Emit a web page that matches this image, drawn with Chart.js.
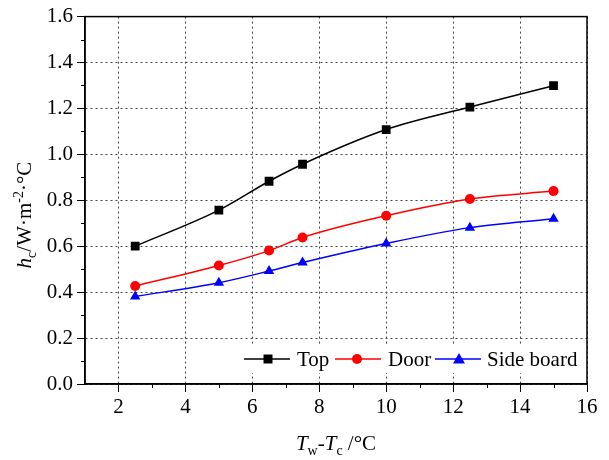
<!DOCTYPE html>
<html>
<head>
<meta charset="utf-8">
<script src="https://cdn.jsdelivr.net/npm/chart.js@4"></script>
<style>
  html, body { margin: 0; padding: 0; background: #fff; }
  #wrap { width: 609px; height: 460px; }
</style>
</head>
<body>
<div id="wrap"><canvas id="chart" width="609" height="460"></canvas></div>
<script>
// values
const xVals = [2.5, 5, 6.5, 7.5, 10, 12.5, 15];
const topVals = [0.600, 0.757, 0.883, 0.957, 1.108, 1.206, 1.299];
const doorVals = [0.427, 0.516, 0.581, 0.638, 0.733, 0.806, 0.840];
const sideVals = [0.381, 0.441, 0.492, 0.529, 0.612, 0.681, 0.720];
const xTicks = [2, 4, 6, 8, 10, 12, 14, 16];
const seriesNames = ["Top", "Door", "Side board"];

const FONT = "'Liberation Serif', 'Times New Roman', serif";

function pts(ys) {
    return xVals.map((x, i) => ({ x: x, y: ys[i] }));
}

function marker(ctx, style, x, y, color) {
    ctx.save();
    ctx.fillStyle = color;
    ctx.beginPath();
    if (style == "rect") {
        ctx.rect(x - 4.5, y - 4.5, 9, 9);
    } else if (style == "circle") {
        ctx.arc(x, y, 5, 0, Math.PI * 2);
    } else {
        ctx.moveTo(x, y - 6);
        ctx.lineTo(x + 6, y + 4.5);
        ctx.lineTo(x - 6, y + 4.5);
        ctx.closePath();
    }
    ctx.fill();
    ctx.restore();
}

// frame, minor ticks, axis titles and the legend
const extras = {
    id: "extras",
    afterDraw(chart) {
        const ctx = chart.ctx;
        const a = chart.chartArea;
        const xs = chart.scales.x;
        const ys = chart.scales.y;
        ctx.save();
        ctx.strokeStyle = "#000";
        ctx.lineWidth = 1.5;
        ctx.strokeRect(a.left, a.top, a.right - a.left, a.bottom - a.top);

        // minor ticks
        ctx.lineWidth = 1;
        ctx.beginPath();
        for (let v = 0.1; v < 1.6; v += 0.2) {
            const py = Math.round(ys.getPixelForValue(v)) + 0.5;
            ctx.moveTo(a.left - 4, py);
            ctx.lineTo(a.left, py);
        }
        for (let v = 3; v < 16; v += 2) {
            const px = Math.round(xs.getPixelForValue(v)) + 0.5;
            ctx.moveTo(px, a.bottom);
            ctx.lineTo(px, a.bottom + 4);
        }
        ctx.stroke();

        ctx.fillStyle = "#000";
        ctx.textBaseline = "alphabetic";

        // x title: Tw-Tc /°C
        const xParts = [
            ["T", "italic 21px " + FONT, 0],
            ["w", "14px " + FONT, 5],
            ["-", "21px " + FONT, 0],
            ["T", "italic 21px " + FONT, 0],
            ["c", "14px " + FONT, 5],
            [" /°C", "21px " + FONT, 0],
        ];
        drawParts(ctx, xParts, (a.left + a.right) / 2, 450);

        // y title: hc/W·m-2·°C, rotated
        ctx.save();
        ctx.translate(31, 215);
        ctx.rotate(-Math.PI / 2);
        const yParts = [
            ["h", "italic 21px " + FONT, 0],
            ["c", "14px " + FONT, 5],
            ["/W·m", "21px " + FONT, 0],
            ["-2", "14px " + FONT, -8],
            ["·°C", "21px " + FONT, 0],
        ];
        drawParts(ctx, yParts, 0, 0);
        ctx.restore();

        // legend
        ctx.fillStyle = "#fff";
        ctx.fillRect(240, 346, 343, 27);
        const ly = 359;
        const items = [
            [244, 290, 268, 297, "rect", "#000"],
            [335, 381, 357, 388, "circle", "#ff0000"],
            [435, 481, 459, 487, "triangle", "#0000ff"],
        ];
        ctx.font = "21px " + FONT;
        ctx.textBaseline = "middle";
        items.forEach((it, i) => {
            ctx.strokeStyle = it[5];
            ctx.lineWidth = 1.5;
            ctx.beginPath();
            ctx.moveTo(it[0], ly);
            ctx.lineTo(it[1], ly);
            ctx.stroke();
            marker(ctx, it[4], it[2], ly, it[5]);
            ctx.fillStyle = "#000";
            ctx.textAlign = "left";
            ctx.fillText(seriesNames[i], it[3], ly + 1);
        });
        ctx.restore();
    },
};

function drawParts(ctx, parts, cx, baseY) {
    let total = 0;
    parts.forEach((p) => {
        ctx.font = p[1];
        total += ctx.measureText(p[0]).width;
    });
    let x = cx - total / 2;
    ctx.textAlign = "left";
    parts.forEach((p) => {
        ctx.font = p[1];
        ctx.fillText(p[0], x, baseY + p[2]);
        x += ctx.measureText(p[0]).width;
    });
}

function makeSet(label, ys, color, style, radius) {
    return {
        label: label,
        data: pts(ys),
        borderColor: color,
        backgroundColor: color,
        borderWidth: 1.5,
        pointStyle: style,
        pointRadius: radius,
        pointHoverRadius: radius,
        pointBorderWidth: 0,
        cubicInterpolationMode: "monotone",
    };
}

new Chart("chart", {
    type: "line",
    data: {
        datasets: [
            makeSet("Top", topVals, "#000000", "rect", 6.2),
            makeSet("Door", doorVals, "#ff0000", "circle", 5),
            makeSet("Side board", sideVals, "#0000ff", "triangle", 6),
        ],
    },
    options: {
        responsive: false,
        animation: false,
        layout: { padding: { left: 0, right: 22, top: 13, bottom: 0 } },
        plugins: {
            legend: { display: false },
            tooltip: { enabled: false },
        },
        scales: {
            x: {
                type: "linear",
                min: 1,
                max: 16,
                afterBuildTicks: (scale) => {
                    scale.ticks = xTicks.map((v) => ({ value: v }));
                },
                afterFit: (scale) => {
                    scale.height = 76;
                },
                ticks: {
                    color: "#000",
                    font: { family: FONT, size: 21 },
                    padding: 3,
                    maxRotation: 0,
                },
                grid: {
                    color: "#444",
                    lineWidth: 1,
                    tickLength: 8,
                    tickColor: "#000",
                    tickBorderDash: [],
                },
                border: { color: "#000", width: 1.5, dash: [2, 3] },
            },
            y: {
                min: 0,
                max: 1.6,
                afterFit: (scale) => {
                    scale.width = 85;
                },
                ticks: {
                    stepSize: 0.2,
                    color: "#000",
                    font: { family: FONT, size: 21 },
                    padding: 4,
                    callback: (v) => v.toFixed(1),
                },
                grid: {
                    color: "#444",
                    lineWidth: 1,
                    tickLength: 8,
                    tickColor: "#000",
                    tickBorderDash: [],
                },
                border: { color: "#000", width: 1.5, dash: [2, 3] },
            },
        },
    },
    plugins: [extras],
});
</script>
</body>
</html>
